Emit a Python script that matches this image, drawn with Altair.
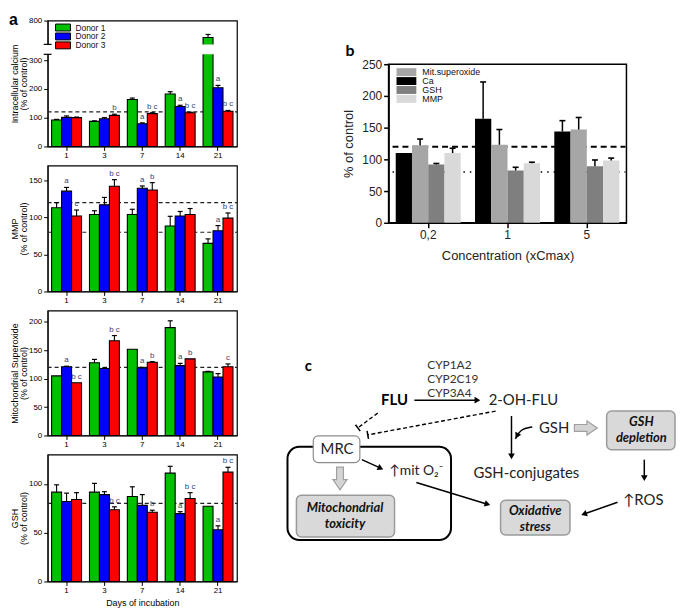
import math
import altair as alt
import pandas as pd

# ---------------- data: panel a ----------------
days = ["1", "3", "7", "14", "21"]
donors = ["Donor 1", "Donor 2", "Donor 3"]
donor_colors = ["#00c000", "#0000ff", "#ff0000"]

ca_d1 = [92, 87, 163, 182, 467]
ca_d2 = [101, 96, 79, 139, 204]
ca_d3 = [100, 108, 114, 117, 122]
ca_e1 = [2, 2, 5, 8, 59]
ca_e2 = [5, 4, 3, 4, 8]
ca_e3 = [2, 4, 3, 2, 3]
ca_l1 = ["", "", "", "", ""]
ca_l2 = ["", "", "a", "a", "a"]
ca_l3 = ["", "b", "b c", "b c", "b c"]

mmp_d1 = [113, 104, 104, 88.5, 65]
mmp_d2 = [135.5, 117, 139.5, 102, 82]
mmp_d3 = [102, 142, 137, 104, 99]
mmp_e1 = [7, 5, 7, 13, 6]
mmp_e2 = [5, 10, 3, 6, 7]
mmp_e3 = [8, 9, 10, 8, 7]
mmp_l1 = ["", "", "", "", ""]
mmp_l2 = ["a", "", "a", "", "a"]
mmp_l3 = ["c", "b c", "b", "", "b c"]

so_d1 = [105, 128, 152, 190, 112]
so_d2 = [121, 118, 119, 123, 103]
so_d3 = [93, 167, 129, 135, 121]
so_e1 = [0, 6, 0, 12, 1]
so_e2 = [1, 1, 1, 4, 6]
so_e3 = [0, 9, 1, 0, 5]
so_l1 = ["", "", "", "", ""]
so_l2 = ["a", "", "a", "a", ""]
so_l3 = ["b c", "b c", "b", "b", "c"]

gsh_d1 = [91.5, 91.5, 87, 111, 77]
gsh_d2 = [82, 89, 78, 69.5, 53]
gsh_d3 = [84, 73.5, 71, 85, 112]
gsh_e1 = [7.5, 9, 10, 7, 0]
gsh_e2 = [8.5, 3, 11, 2, 4]
gsh_e3 = [7, 3, 2, 6, 5]
gsh_l1 = ["", "", "", "", ""]
gsh_l2 = ["", "", "", "a", "a"]
gsh_l3 = ["", "b c", "b", "b c", "b c"]

# ---------------- data: panel b ----------------
conc = ["0,2", "1", "5"]
params = ["Ca", "Mit.superoxide", "GSH", "MMP"]
legend_order = ["Mit.superoxide", "Ca", "GSH", "MMP"]
param_colors = ["#a6a6a6", "#000000", "#7f7f7f", "#d9d9d9"]
b_ca = [110, 164, 144]
b_ca_err = [0, 58, 17]
b_mit = [122, 123, 147]
b_mit_err = [10, 24, 19]
b_gsh = [92, 82.5, 89]
b_gsh_err = [1.5, 5, 10]
b_mmp = [110, 94, 98]
b_mmp_err = [7.5, 1.5, 4]

# ---------------- data: panel c (diagram, page coordinates) ----------------
cyp_text = ["CYP1A2", "CYP2C19", "CYP3A4"]
cyp_x = [428, 428, 428]
cyp_y = [367, 381, 395]

norm_text = ["2-OH-FLU", "MRC", "↑mit O₂⁻", "GSH", "GSH-conjugates", "↑ROS"]
norm_x = [525, 337, 417, 556, 528, 646]
norm_y = [402, 451, 473, 430, 476, 503]
norm_size = [15, 15, 14, 15, 15, 15]

bold_text = ["FLU", "b", "c"]
bold_x = [395, 350, 308]
bold_y = [402, 50, 368]
bold_size = [15, 16, 15]

bi_text = ["Mitochondrial", "toxicity", "GSH", "depletion", "Oxidative", "stress"]
bi_x = [345, 345, 644, 644, 537, 537]
bi_y = [511, 527, 424, 440, 514, 530]

gray_box_x1 = [296, 609, 502]
gray_box_x2 = [395, 678, 572]
gray_box_y1 = [498, 413, 503]
gray_box_y2 = [540, 452, 538]

big_box = [287, 452, 449, 543]
mrc_box = [313, 360, 438, 465]

arr_x1 = [415, 362, 417, 513, 647, 620]
arr_y1 = [402, 462, 485, 418, 462, 505]
arr_x2 = [482, 384, 492, 513, 647, 583]
arr_y2 = [402, 472, 508, 462, 484, 518]

inh_x1 = [378, 497]
inh_y1 = [415, 413]
inh_x2 = [358, 368]
inh_y2 = [430, 437]

curve_x = [534, 522, 517]
curve_y = [429, 431, 441]

fat_x = [340, 588]
fat_y = [481, 430]
fat_angle = [0, 270]

FONT = "Liberation Sans"
DFONT = "Lato"
ANNOT = "#34466e"


def legend_layers(names, colors, x0, sw, sh, y0, step, fs, gap, stroke):
    """Compact legend drawn as marks, positioned in pixels inside the plot."""
    d = pd.DataFrame({"name": names, "i": list(range(len(names)))})
    base = alt.Chart(d).transform_calculate(
        cy=f"{y0} + datum.i * {step}", ya=f"{y0} + datum.i * {step} - {sh / 2}",
        yb=f"{y0} + datum.i * {step} + {sh / 2}")
    sw_kw = dict(stroke="black", strokeWidth=1) if stroke else dict(strokeWidth=0)
    sq = base.mark_rect(opacity=1, **sw_kw).encode(
        x=alt.value(x0), x2=alt.value(x0 + sw),
        y=alt.Y("ya:Q", scale=None), y2=alt.Y2("yb:Q"),
        color=alt.Color("name:N", scale=alt.Scale(domain=names, range=colors), legend=None))
    tx = base.mark_text(align="left", baseline="middle", font=FONT, fontSize=fs, color="#111").encode(
        x=alt.value(x0 + sw + gap), y=alt.Y("cy:Q", scale=None), text="name:N")
    return [sq, tx]


# ---------------- panel a ----------------
def a_frame(vals, errs, labs):
    rows = []
    for di, d in enumerate(donors):
        for i, day in enumerate(days):
            rows.append(dict(day=day, donor=d, value=vals[di][i], err=errs[di][i],
                             top=vals[di][i] + errs[di][i], lab=labs[di][i]))
    return pd.DataFrame(rows)


AW = 191


def panel_a(df, scale_kw, ticks, ytitle, height, refs, legend=False, xtitle=False, broken=False):
    yaxis = alt.Axis(values=ticks, title=ytitle, titleFontSize=9, titleFontWeight="normal",
                     titleFont=FONT, labelFont=FONT, labelFontSize=8, tickSize=4, tickColor="black",
                     domainColor="black", labelColor="black", titleColor="black", grid=False,
                     titlePadding=0, labelPadding=2, titleLineHeight=9)

    def Y(f):
        return alt.Y(f, type="quantitative", scale=alt.Scale(**scale_kw), axis=yaxis)

    if xtitle:
        xaxis = alt.Axis(labelAngle=0, tickSize=4, labelFontSize=8, labelFont=FONT, labelPadding=1,
                         domainColor="black", tickColor="black", labelColor="black",
                         title="Days of incubation", titleFontSize=9, titleFontWeight="normal",
                         titleFont=FONT, titleColor="black", titlePadding=4)
    else:
        xaxis = alt.Axis(labelAngle=0, tickSize=4, labelFontSize=8, labelFont=FONT, labelPadding=1,
                         domainColor="black", tickColor="black", labelColor="black", title=None)
    X = alt.X("day:N", sort=days, scale=alt.Scale(paddingInner=0.21, paddingOuter=0.105), axis=xaxis)
    XO = alt.XOffset("donor:N", sort=donors, scale=alt.Scale(paddingInner=0, paddingOuter=0))

    ref_layer = alt.Chart(pd.DataFrame({"ref": refs})).mark_rule(
        strokeDash=[4, 3], color="#222", strokeWidth=1.1).encode(
        y=Y("ref"), x=alt.value(0), x2=alt.value(AW))
    bars = alt.Chart(df).mark_bar(stroke="black", strokeWidth=1.1, opacity=1).encode(
        x=X, xOffset=XO, y=Y("value"),
        color=alt.Color("donor:N", scale=alt.Scale(domain=donors, range=donor_colors), legend=None))
    errs = alt.Chart(df).transform_filter("datum.err > 0").mark_rule(
        color="black", strokeWidth=1.1).encode(x=X, xOffset=XO, y=Y("value"), y2="top:Q")
    caps = alt.Chart(df).transform_filter("datum.err > 0").mark_tick(
        color="black", thickness=1.2, size=5, opacity=1).encode(x=X, xOffset=XO, y=Y("top"))
    texts = alt.Chart(df).transform_filter("datum.lab != ''").mark_text(
        baseline="bottom", dy=-2, fontSize=8, font=FONT, color=ANNOT).encode(
        x=X, xOffset=XO, y=Y("top"), text="lab:N")
    layers = [ref_layer, bars, errs, caps, texts]
    if broken:
        white = alt.Chart(pd.DataFrame({"lo": [320], "hi": [330]})).mark_rect(
            color="white", opacity=1).encode(y=Y("lo"), y2="hi:Q", x=alt.value(-6), x2=alt.value(AW - 1))
        brk = alt.Chart(pd.DataFrame({"b": [320, 330]})).mark_rule(
            color="black", strokeWidth=1.2).encode(y=Y("b"), x=alt.value(-4), x2=alt.value(4))
        lab_a = alt.Chart(pd.DataFrame({"t": ["a"]})).mark_text(
            align="left", baseline="top", font=FONT, fontWeight="bold", fontSize=16, color="black").encode(
            text="t:N", x=alt.value(-39), y=alt.value(-9))
        layers += [white, brk, lab_a]
    if legend:
        layers += legend_layers(donors, donor_colors, 8, 15, 7, 7, 9, 8.5, 5, True)
    return alt.layer(*layers).properties(
        width=AW, height=height, view=alt.ViewBackground(stroke="black", strokeWidth=1.2))


a1 = panel_a(a_frame([ca_d1, ca_d2, ca_d3], [ca_e1, ca_e2, ca_e3], [ca_l1, ca_l2, ca_l3]),
             dict(domain=[0, 320, 330, 800], range=[127, 34, 24, 0], nice=False, zero=False),
             [0, 100, 200, 300, 800], ["Intracellular calcium", "(% of control)"], 127, [120],
             legend=True, broken=True)
a2 = panel_a(a_frame([mmp_d1, mmp_d2, mmp_d3], [mmp_e1, mmp_e2, mmp_e3], [mmp_l1, mmp_l2, mmp_l3]),
             dict(domain=[0, 170], nice=False, zero=False),
             [0, 50, 100, 150], ["MMP", "(% of control)"], 127, [120, 80])
a3 = panel_a(a_frame([so_d1, so_d2, so_d3], [so_e1, so_e2, so_e3], [so_l1, so_l2, so_l3]),
             dict(domain=[0, 220], nice=False, zero=False),
             [0, 50, 100, 150, 200], ["Mitochondrial Superoxide", "(% of control)"], 126, [120])
a4 = panel_a(a_frame([gsh_d1, gsh_d2, gsh_d3], [gsh_e1, gsh_e2, gsh_e3], [gsh_l1, gsh_l2, gsh_l3]),
             dict(domain=[0, 130], nice=False, zero=False),
             [0, 50, 100], ["GSH", "(% of control)"], 128, [80], xtitle=True)

# ---------------- panel b ----------------
brows = []
for p, vals, errs_ in zip(params, [b_ca, b_mit, b_gsh, b_mmp], [b_ca_err, b_mit_err, b_gsh_err, b_mmp_err]):
    for i, c in enumerate(conc):
        brows.append(dict(conc=c, param=p, value=vals[i], err=errs_[i], top=vals[i] + errs_[i]))
bdf = pd.DataFrame(brows)

BW, BH = 240, 160
b_yaxis = alt.Axis(values=[0, 50, 100, 150, 200, 250], title="% of control", titleFontSize=13,
                   titleFontWeight="normal", titleFont=FONT, labelFont=FONT, labelFontSize=12,
                   tickSize=5, tickColor="black", domainColor="black", domainWidth=1.5, tickWidth=1.5,
                   labelColor="#222", titleColor="#222", grid=False, titlePadding=6, labelPadding=2)


def BY(f):
    return alt.Y(f, type="quantitative", scale=alt.Scale(domain=[0, 250], nice=False, zero=False), axis=b_yaxis)


b_xaxis = alt.Axis(labelAngle=0, tickSize=5, labelFontSize=12, labelFont=FONT, labelPadding=2,
                   domainColor="black", tickColor="black", domainWidth=1.5, tickWidth=1.5,
                   labelColor="#222", title="Concentration (xCmax)", titleFontSize=13,
                   titleFontWeight="normal", titleFont=FONT, titleColor="#222", titlePadding=9)
BX = alt.X("conc:N", sort=conc, scale=alt.Scale(paddingInner=0.18, paddingOuter=0.09), axis=b_xaxis)
BXO = alt.XOffset("param:N", sort=params, scale=alt.Scale(paddingInner=0, paddingOuter=0))

b_ref = alt.Chart(pd.DataFrame({"ref": [120]})).mark_rule(
    strokeDash=[6, 4], color="black", strokeWidth=2).encode(y=BY("ref"), x=alt.value(4), x2=alt.value(BW - 1))
b_ref2 = alt.Chart(pd.DataFrame({"ref": [80]})).mark_rule(
    strokeDash=[1.5, 5], color="black", strokeWidth=1.5).encode(y=BY("ref"), x=alt.value(4), x2=alt.value(BW - 1))
b_bars = alt.Chart(bdf).mark_bar(opacity=1).encode(
    x=BX, xOffset=BXO, y=BY("value"),
    color=alt.Color("param:N", scale=alt.Scale(domain=legend_order, range=param_colors), legend=None))
b_err = alt.Chart(bdf).transform_filter("datum.err > 0").mark_rule(color="black", strokeWidth=1.5).encode(
    x=BX, xOffset=BXO, y=BY("value"), y2="top:Q")
b_cap = alt.Chart(bdf).transform_filter("datum.err > 0").mark_tick(
    color="black", thickness=1.6, size=6, opacity=1).encode(x=BX, xOffset=BXO, y=BY("top"))
b_legend = legend_layers(legend_order, param_colors, 8, 20, 8, 8, 9, 9, 6, False)
panel_b = alt.layer(b_ref, b_ref2, b_bars, b_err, b_cap, *b_legend).properties(
    width=BW, height=BH, view=alt.ViewBackground(stroke="black", strokeWidth=1.5))

# ---------------- panel c (diagram) ----------------
CX0, CX1, CY0, CY1 = 389, 679, 233, 550


def DX(f):
    return alt.X(f, type="quantitative", scale=alt.Scale(domain=[CX0, CX1], nice=False, zero=False), axis=None)


def DY(f):
    return alt.Y(f, type="quantitative", scale=alt.Scale(domain=[CY0, CY1], reverse=True, nice=False, zero=False), axis=None)


def box_layer(x1, x2, y1, y2, **kw):
    d = pd.DataFrame({"x": x1, "x2": x2, "y": y1, "y2": y2})
    return alt.Chart(d).mark_rect(**kw).encode(x=DX("x"), x2="x2:Q", y=DY("y"), y2="y2:Q")


big = box_layer([big_box[0]], [big_box[1]], [big_box[2]], [big_box[3]],
                fill="white", fillOpacity=0, stroke="black", strokeWidth=2, cornerRadius=12)
mrc = box_layer([mrc_box[0]], [mrc_box[1]], [mrc_box[2]], [mrc_box[3]],
                fill="white", stroke="#8c8c8c", strokeWidth=1.2, cornerRadius=5)
grays = box_layer(gray_box_x1, gray_box_x2, gray_box_y1, gray_box_y2,
                  fill="#d9d9d9", stroke="#9a9a9a", strokeWidth=1.5, cornerRadius=5)

HEAD = 45
hr = math.sqrt(HEAD) / 2
ar = []
for x1, y1, x2, y2 in zip(arr_x1, arr_y1, arr_x2, arr_y2):
    dx, dy = x2 - x1, y2 - y1
    L = math.hypot(dx, dy)
    ux, uy = dx / L, dy / L
    ar.append(dict(x=x1, y=y1, x2=x2 - ux * hr, y2=y2 - uy * hr,
                   hx=x2 - ux * hr, hy=y2 - uy * hr, ang=math.degrees(math.atan2(dy, dx)) % 360))
cdx, cdy = curve_x[-1] - curve_x[-2], curve_y[-1] - curve_y[-2]
cL = math.hypot(cdx, cdy)
curve_head = dict(hx=curve_x[-1] - cdx / cL * hr, hy=curve_y[-1] - cdy / cL * hr,
                  ang=math.degrees(math.atan2(cdy, cdx)) % 360)
ardf = pd.DataFrame(ar)
heads = pd.concat([ardf[["hx", "hy", "ang"]], pd.DataFrame([curve_head])], ignore_index=True)

arrow_lines = alt.Chart(ardf).mark_rule(color="black", strokeWidth=1.5).encode(
    x=DX("x"), y=DY("y"), x2="x2:Q", y2="y2:Q")
arrow_heads = alt.Chart(heads).mark_point(shape="triangle-right", filled=True, color="black",
                                          size=HEAD, opacity=1).encode(
    x=DX("hx"), y=DY("hy"), angle=alt.Angle("ang:Q", scale=None))
cdf = pd.DataFrame({"x": curve_x, "y": curve_y, "o": list(range(len(curve_x)))})
curve = alt.Chart(cdf).mark_line(color="black", strokeWidth=1.5, interpolate="basis").encode(
    x=DX("x"), y=DY("y"), order="o:Q")

inh = []
tb = []
for x1, y1, x2, y2 in zip(inh_x1, inh_y1, inh_x2, inh_y2):
    dx, dy = x2 - x1, y2 - y1
    L = math.hypot(dx, dy)
    px, py = -dy / L, dx / L
    inh.append(dict(x=x1, y=y1, x2=x2, y2=y2))
    tb.append(dict(x=x2 - px * 4, y=y2 - py * 4, x2=x2 + px * 4, y2=y2 + py * 4))
inh_lines = alt.Chart(pd.DataFrame(inh)).mark_rule(color="black", strokeWidth=1.4, strokeDash=[4, 2.5]).encode(
    x=DX("x"), y=DY("y"), x2="x2:Q", y2="y2:Q")
tbars = alt.Chart(pd.DataFrame(tb)).mark_rule(color="black", strokeWidth=1.5).encode(
    x=DX("x"), y=DY("y"), x2="x2:Q", y2="y2:Q")

fat = alt.Chart(pd.DataFrame({"x": fat_x, "y": fat_y, "ang": fat_angle})).mark_point(
    shape="M-0.3,-1L0.3,-1L0.3,0.1L0.62,0.1L0,1L-0.62,0.1L-0.3,0.1Z", filled=True,
    fill="#d4d4d4", stroke="#a0a0a0", strokeWidth=1.2, size=529, opacity=1).encode(
    x=DX("x"), y=DY("y"), angle=alt.Angle("ang:Q", scale=None))

cyp = alt.Chart(pd.DataFrame({"x": cyp_x, "y": cyp_y, "t": cyp_text})).mark_text(
    align="left", baseline="middle", font=DFONT, fontSize=12, color="#333").encode(
    x=DX("x"), y=DY("y"), text="t:N")
norm = alt.Chart(pd.DataFrame({"x": norm_x, "y": norm_y, "t": norm_text, "s": norm_size})).mark_text(
    align="center", baseline="middle", font=DFONT, color="#222").encode(
    x=DX("x"), y=DY("y"), text="t:N", size=alt.Size("s:Q", scale=None))
bold = alt.Chart(pd.DataFrame({"x": bold_x, "y": bold_y, "t": bold_text, "s": bold_size})).mark_text(
    align="center", baseline="middle", font=DFONT, fontWeight="bold", color="black").encode(
    x=DX("x"), y=DY("y"), text="t:N", size=alt.Size("s:Q", scale=None))
bi = alt.Chart(pd.DataFrame({"x": bi_x, "y": bi_y, "t": bi_text})).mark_text(
    align="center", baseline="middle", font=DFONT, fontWeight="bold", fontStyle="italic",
    fontSize=13, color="#111").encode(x=DX("x"), y=DY("y"), text="t:N")

panel_c = alt.layer(big, mrc, grays, arrow_lines, arrow_heads, curve, inh_lines, tbars, fat,
                    cyp, norm, bold, bi).properties(
    width=CX1 - CX0, height=CY1 - CY0, view=alt.ViewBackground(stroke="transparent"))

spacer = alt.Chart(pd.DataFrame({"z": [0]})).mark_point(opacity=0).encode(
    x=alt.X("z:Q", axis=None), y=alt.Y("z:Q", axis=None)).properties(
    width=10, height=34, view=alt.ViewBackground(stroke="transparent"))

IND = dict(color="independent", xOffset="independent", x="independent", y="independent")
left = alt.vconcat(a1, a2, a3, a4, spacing=19.3, bounds="flush").resolve_scale(**IND)
right = alt.vconcat(spacer, panel_b, panel_c, spacing=10, bounds="flush").resolve_scale(**IND)
chart = alt.hconcat(left, right, spacing=47).resolve_scale(**IND).properties(
    padding=0).configure_view(stroke="transparent").configure(font=FONT, background="white")

chart.save("out.html", embed_options={"renderer": "svg", "actions": False})
